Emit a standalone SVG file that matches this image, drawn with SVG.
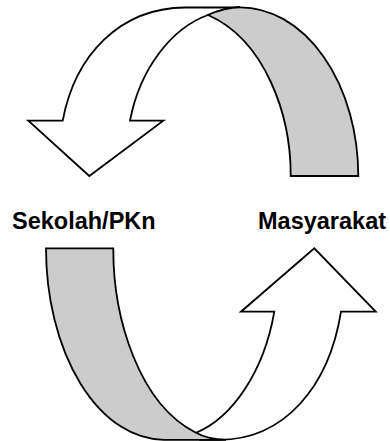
<svg xmlns="http://www.w3.org/2000/svg" width="390" height="441" viewBox="0 0 390 441">
<style>
.front{fill:#ffffff;stroke:#000;stroke-width:1.8;stroke-linejoin:miter}
.back{fill:#cccccc;stroke:#000;stroke-width:1.8;stroke-linejoin:miter}
.lbl{font-family:"Liberation Sans",Arial,sans-serif;font-weight:bold;font-size:23.5px;fill:#000}
</style>
<rect width="390" height="441" fill="#ffffff"/>
<g id="connectors">
<g id="arrow-top">
<path class="front" d="M62.7,120.7 C75,55 120,8 185,7.5 L240,7.3 Q225,7.3 208,15 C172,28 140,68 130,120.7 L163.3,120.7 L89.3,176 L28.3,120.7 Z"/>
<path class="back" d="M208,15 Q225,7.3 240,7.3 A118.3,168.7 0 0 1 358.3,176 L290.7,176 C291,115 265,40 208,15 Z"/>
</g>
<g id="arrow-bottom">
<path class="front" d="M274.3,311.7 L241,311.7 L314.3,248.3 L375.7,311.7 L341,311.7 C329,387 284,439.8 219,439.8 L200,439.8 L196,432.8 C232,418 264,372 274.3,311.7 Z"/>
<path class="back" d="M46,248.3 L113.3,248.3 C113,318.2 139,404.2 196,432.8 Q208,439.5 226,439.8 L164,439.8 A118,191.5 0 0 1 46,248.3 Z"/>
</g>
</g>
<g id="node-sekolah">
<text class="lbl" x="12" y="229">Sekolah/PKn</text>
</g>
<g id="node-masyarakat">
<text class="lbl" x="258" y="229">Masyarakat</text>
</g>
</svg>
